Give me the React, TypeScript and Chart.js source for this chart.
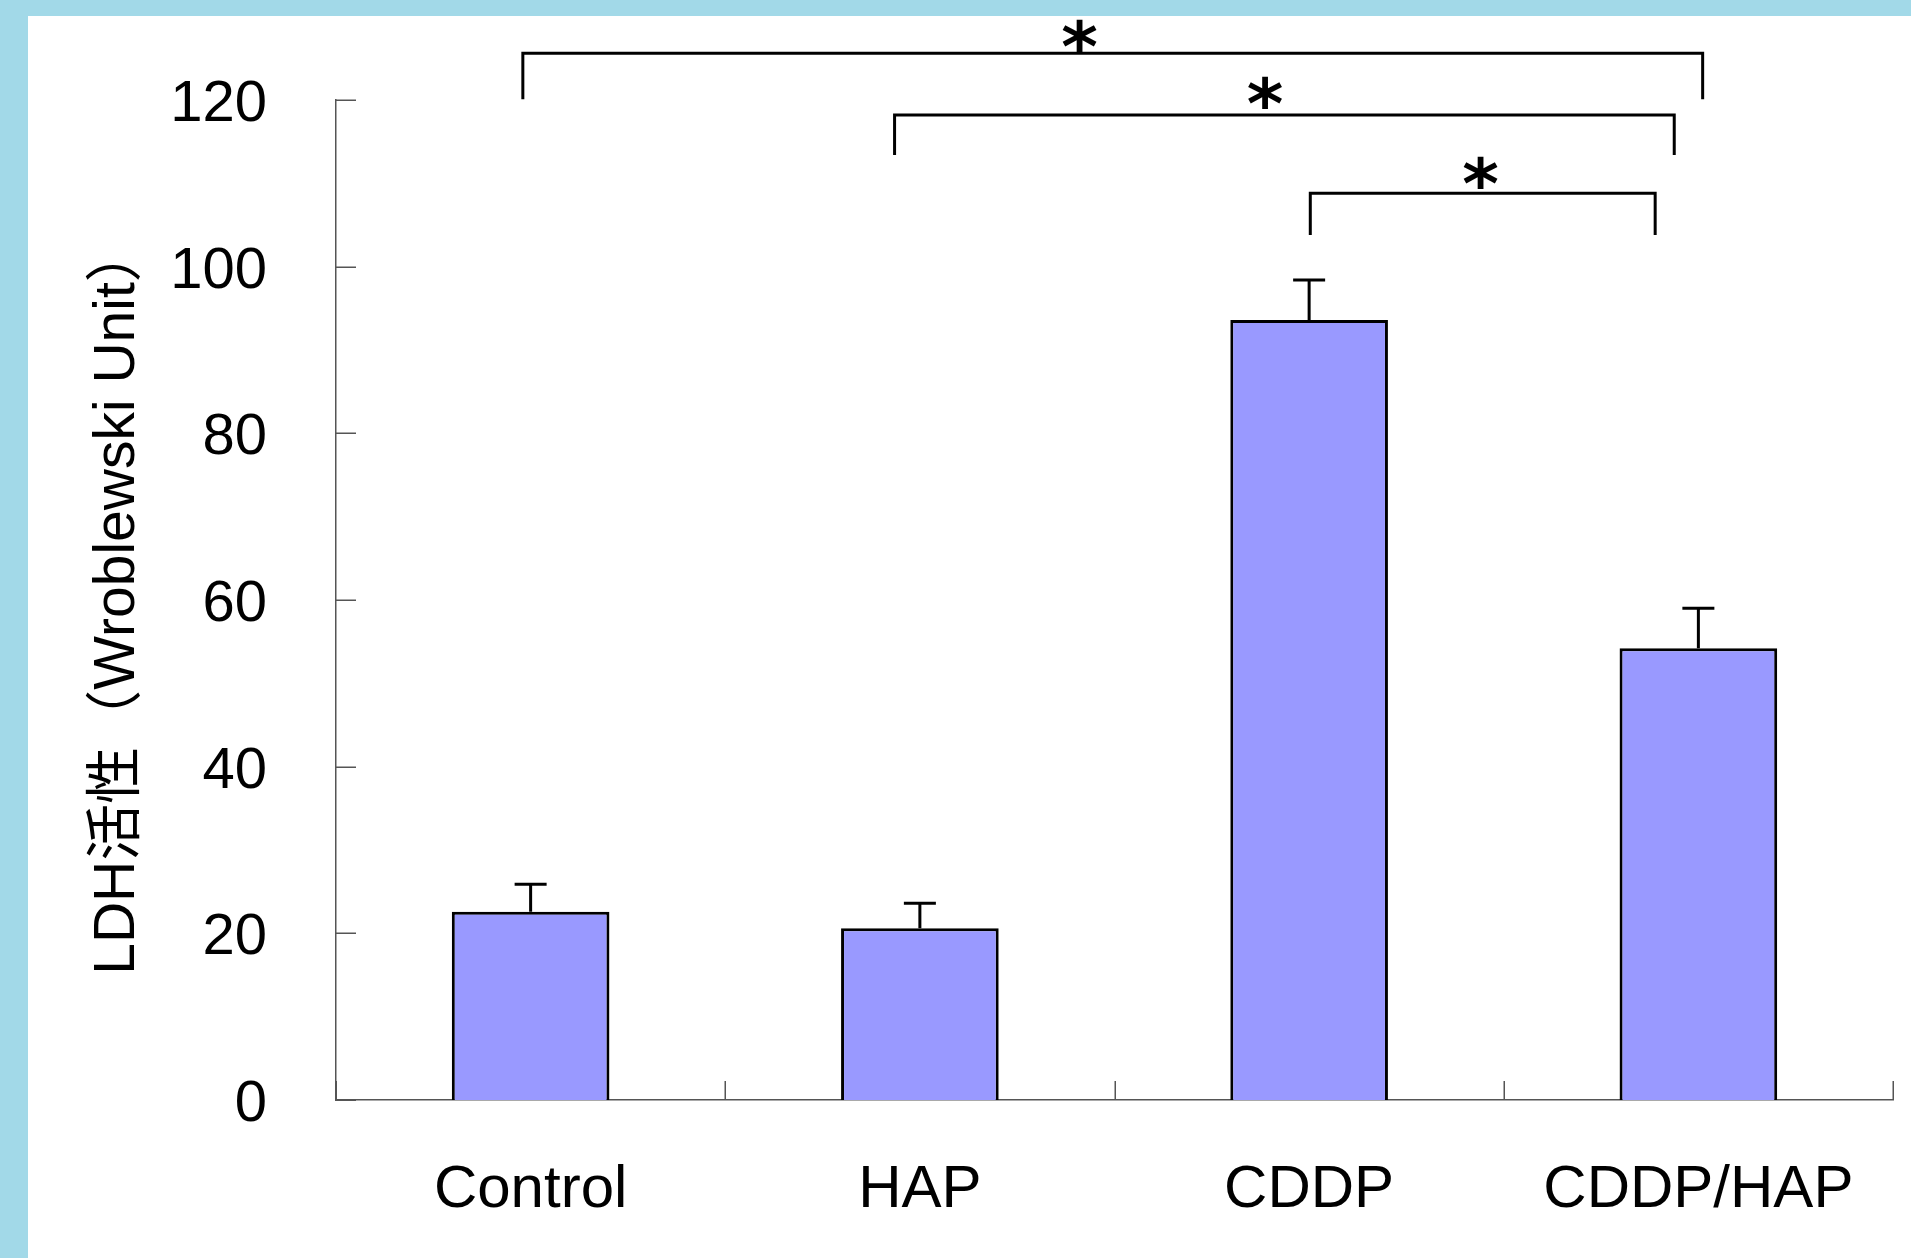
import React, { useEffect, useRef } from 'react';
import { Chart, registerables } from 'chart.js';

Chart.register(...registerables);

// ---- data ----
const categories = ['Control', 'HAP', 'CDDP', 'CDDP/HAP'];
const ldhMeans = [22.6, 20.6, 93.6, 54.2];
const ldhErrors = [3.3, 3.0, 4.8, 4.8];
const yTickValues = [0, 20, 40, 60, 80, 100, 120];
const yAxisTitle = 'LDH活性（Wroblewski Unit）';

// significance brackets (x in category units, y in data units)
const bracketFromX = [-0.02, 0.935, 2.003];
const bracketToX = [3.011, 2.938, 2.889];
const bracketTopY = [125.6, 118.2, 108.8];
const bracketFootY = [120.1, 113.4, 103.8];
const starLabels = ['*', '*', '*'];
const starX = [1.411, 1.887, 2.441];
const starY = [127.8, 120.9, 111.3];

const FONT = "'Liberation Sans', Arial, 'Noto Sans CJK JP', sans-serif";
const BLUE_BG = '#A2D9E8';

const overlayPlugin = {
  id: 'overlay',
  afterDatasetsDraw(chart: any) {
    const ctx = chart.ctx;
    const y = chart.scales.y;
    const meta = chart.getDatasetMeta(0);
    ctx.save();
    ctx.strokeStyle = '#000';
    ctx.lineWidth = 3;
    ctx.lineCap = 'butt';
    meta.data.forEach((bar: any, i: number) => {
      const top = y.getPixelForValue(ldhMeans[i] + ldhErrors[i]);
      const base = y.getPixelForValue(ldhMeans[i]);
      ctx.beginPath();
      ctx.moveTo(bar.x, base);
      ctx.lineTo(bar.x, top);
      ctx.moveTo(bar.x - 16, top);
      ctx.lineTo(bar.x + 16, top);
      ctx.stroke();
    });
    ctx.restore();
  },
  afterDraw(chart: any) {
    const ctx = chart.ctx;
    const x = chart.scales.x;
    const y = chart.scales.y;
    const area = chart.chartArea;
    ctx.save();
    // inner tick marks
    ctx.strokeStyle = '#555';
    ctx.lineWidth = 1.5;
    ctx.beginPath();
    yTickValues.forEach((v) => {
      const py = Math.round(y.getPixelForValue(v)) + 0.25;
      ctx.moveTo(area.left, py);
      ctx.lineTo(area.left + 20, py);
    });
    for (let i = 0; i <= categories.length; i++) {
      const px = Math.round(x.getPixelForValue(i - 0.5)) + 0.25;
      ctx.moveTo(px, area.bottom);
      ctx.lineTo(px, area.bottom - 19);
    }
    ctx.stroke();

    // brackets
    ctx.strokeStyle = '#000';
    ctx.lineWidth = 3;
    ctx.lineJoin = 'miter';
    bracketFromX.forEach((fx, i) => {
      const x1 = x.getPixelForValue(fx);
      const x2 = x.getPixelForValue(bracketToX[i]);
      const yt = y.getPixelForValue(bracketTopY[i]);
      const yf = y.getPixelForValue(bracketFootY[i]);
      ctx.beginPath();
      ctx.moveTo(x1, yf);
      ctx.lineTo(x1, yt);
      ctx.lineTo(x2, yt);
      ctx.lineTo(x2, yf);
      ctx.stroke();
    });

    // stars
    ctx.fillStyle = '#000';
    ctx.font = "bold 70px 'DejaVu Sans', sans-serif";
    ctx.textAlign = 'left';
    ctx.textBaseline = 'alphabetic';
    starLabels.forEach((s, i) => {
      const m = ctx.measureText(s);
      const cx = x.getPixelForValue(starX[i]);
      const cy = y.getPixelForValue(starY[i]);
      const tx = cx - (m.actualBoundingBoxRight - m.actualBoundingBoxLeft) / 2;
      const ty = cy + (m.actualBoundingBoxAscent - m.actualBoundingBoxDescent) / 2;
      ctx.fillText(s, tx, ty);
    });
    ctx.restore();
  },
};

export default function App() {
  const canvasRef = useRef<HTMLCanvasElement | null>(null);

  useEffect(() => {
    const canvas = canvasRef.current;
    if (!canvas) return;
    const chart = new Chart(canvas, {
      type: 'bar',
      data: {
        labels: categories,
        datasets: [
          {
            data: ldhMeans,
            backgroundColor: '#9999FF',
            borderColor: '#000000',
            borderWidth: 3,
            borderSkipped: 'bottom',
            categoryPercentage: 1,
            barPercentage: 0.405,
          },
        ],
      },
      options: {
        responsive: false,
        animation: false,
        events: [],
        layout: { autoPadding: false, padding: { left: 0, top: 84, right: 18, bottom: 0 } },
        plugins: {
          legend: { display: false },
          tooltip: { enabled: false },
          title: { display: false },
        },
        scales: {
          x: {
            type: 'category',
            offset: true,
            grid: { display: false, drawTicks: false },
            border: { display: true, color: '#555', width: 1.5 },
            ticks: {
              color: '#000',
              padding: 54,
              maxRotation: 0,
              autoSkip: false,
              font: { family: FONT, size: 60, lineHeight: 1.2 },
            },
            afterFit: (s: any) => {
              s.height = 158;
              s.paddingLeft = 0;
              s.paddingRight = 0;
            },
          },
          y: {
            type: 'linear',
            min: 0,
            max: 120,
            grid: { display: false, drawTicks: false },
            border: { display: true, color: '#555', width: 1.5 },
            afterBuildTicks: (s: any) => {
              s.ticks = yTickValues.map((v) => ({ value: v }));
            },
            ticks: {
              color: '#000',
              padding: 69,
              labelOffset: 5,
              font: { family: FONT, size: 58, lineHeight: 1.2 },
            },
            title: {
              display: true,
              text: yAxisTitle,
              color: '#000',
              padding: { top: 56, bottom: 0 },
              font: { family: FONT, size: 57, lineHeight: 1.2 },
            },
            afterFit: (s: any) => {
              s.width = 308;
              s.paddingTop = 0;
              s.paddingBottom = 0;
            },
          },
        },
      },
      plugins: [overlayPlugin],
    });
    return () => chart.destroy();
  }, []);

  return (
    <div
      style={{
        position: 'fixed',
        left: 0,
        top: 0,
        width: 1911,
        height: 1258,
        background: BLUE_BG,
        overflow: 'hidden',
      }}
    >
      <div
        style={{
          position: 'absolute',
          left: 28,
          top: 16,
          width: 1883,
          height: 1242,
          background: '#ffffff',
        }}
      >
        <canvas
          ref={canvasRef}
          width={1883}
          height={1242}
          style={{ display: 'block', width: 1883, height: 1242 }}
        />
      </div>
    </div>
  );
}
